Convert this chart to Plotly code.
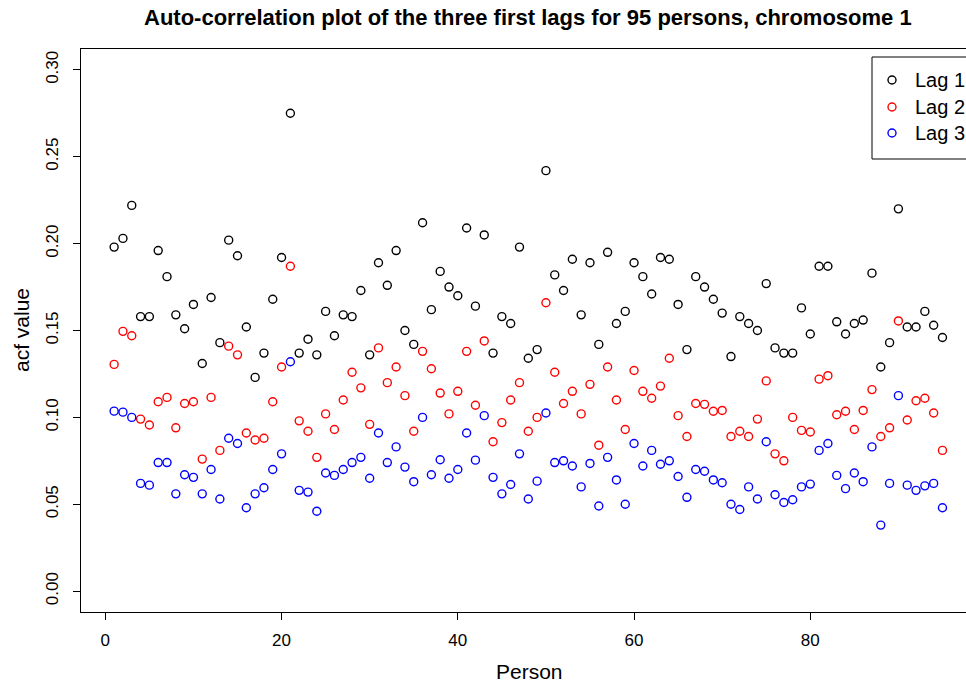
import plotly.graph_objects as go

persons = list(range(1, 96))

lag1 = [0.198, 0.203, 0.222, 0.158, 0.158, 0.196, 0.181, 0.159, 0.151, 0.165,
        0.131, 0.169, 0.143, 0.202, 0.193, 0.152, 0.123, 0.137, 0.168, 0.192,
        0.275, 0.137, 0.145, 0.136, 0.161, 0.147, 0.159, 0.158, 0.173, 0.136,
        0.189, 0.176, 0.196, 0.150, 0.142, 0.212, 0.162, 0.184, 0.175, 0.170,
        0.209, 0.164, 0.205, 0.137, 0.158, 0.154, 0.198, 0.134, 0.139, 0.242,
        0.182, 0.173, 0.191, 0.159, 0.189, 0.142, 0.195, 0.154, 0.161, 0.189,
        0.181, 0.171, 0.192, 0.191, 0.165, 0.139, 0.181, 0.175, 0.168, 0.160,
        0.135, 0.158, 0.154, 0.150, 0.177, 0.140, 0.137, 0.137, 0.163, 0.148,
        0.187, 0.187, 0.155, 0.148, 0.154, 0.156, 0.183, 0.129, 0.143, 0.220,
        0.152, 0.152, 0.161, 0.153, 0.146]

lag2 = [0.1305, 0.1495, 0.147, 0.099, 0.0956, 0.109, 0.1115, 0.094, 0.108, 0.109,
        0.076, 0.1115, 0.081, 0.141, 0.136, 0.091, 0.087, 0.088, 0.109, 0.129,
        0.187, 0.098, 0.092, 0.077, 0.102, 0.093, 0.110, 0.126, 0.117, 0.096,
        0.140, 0.120, 0.129, 0.1125, 0.092, 0.138, 0.128, 0.114, 0.102, 0.115,
        0.138, 0.107, 0.144, 0.086, 0.097, 0.110, 0.120, 0.092, 0.100, 0.166,
        0.126, 0.108, 0.115, 0.102, 0.119, 0.084, 0.129, 0.110, 0.093, 0.127,
        0.115, 0.111, 0.118, 0.134, 0.101, 0.089, 0.108, 0.1075, 0.1035, 0.104,
        0.089, 0.092, 0.089, 0.099, 0.121, 0.079, 0.075, 0.100, 0.0925, 0.0916,
        0.122, 0.124, 0.1015, 0.1035, 0.093, 0.104, 0.116, 0.089, 0.094, 0.1555,
        0.0985, 0.1096, 0.111, 0.1025, 0.081]

lag3 = [0.1036, 0.103, 0.100, 0.062, 0.061, 0.074, 0.074, 0.056, 0.067, 0.0655,
        0.056, 0.070, 0.053, 0.088, 0.085, 0.048, 0.056, 0.0595, 0.070, 0.079,
        0.132, 0.058, 0.057, 0.046, 0.068, 0.0666, 0.070, 0.074, 0.077, 0.065,
        0.091, 0.074, 0.083, 0.0714, 0.063, 0.100, 0.067, 0.0756, 0.065, 0.070,
        0.091, 0.0754, 0.101, 0.0655, 0.056, 0.0614, 0.079, 0.053, 0.0633, 0.1025,
        0.074, 0.075, 0.072, 0.060, 0.0735, 0.049, 0.077, 0.064, 0.050, 0.085,
        0.072, 0.081, 0.073, 0.075, 0.066, 0.054, 0.070, 0.069, 0.064, 0.0624,
        0.050, 0.047, 0.060, 0.053, 0.086, 0.0555, 0.051, 0.0526, 0.060, 0.0616,
        0.081, 0.085, 0.0666, 0.059, 0.068, 0.063, 0.083, 0.038, 0.062, 0.1125,
        0.061, 0.058, 0.0606, 0.062, 0.048]

series_names = ["Lag 1", "Lag 2", "Lag 3"]
series_colors = ["#000000", "#FF0000", "#0000FF"]
x_ticks = [0, 20, 40, 60, 80]
y_ticks = [0.00, 0.05, 0.10, 0.15, 0.20, 0.25, 0.30]

W, H = 966, 684
ML, MR, MT, MB = 81, 0, 49, 72
PW = W - ML - MR
PH = H - MT - MB


def px(xp):
    return (xp - ML) / PW


def py(yp):
    return (H - MB - yp) / PH


FONT = "Liberation Sans, Arial, Helvetica, sans-serif"
MARKER = dict(symbol="circle-open", size=8)

# legend layout (pixel positions in the figure)
LEG_LEFT, LEG_TOP, LEG_BOTTOM = 872, 57, 159
LEG_SYM_X, LEG_TEXT_X = 892, 913
LEG_ROWS = [80, 107, 133]

fig = go.Figure()
for name, vals, col in zip(series_names, [lag1, lag2, lag3], series_colors):
    fig.add_trace(go.Scatter(
        x=persons, y=vals, mode="markers", name=name, showlegend=False,
        marker=dict(**MARKER, color=col, line=dict(width=1.4, color=col)),
    ))

# legend glyphs on a hidden pixel-space overlay axis
for name, col, row in zip(series_names, series_colors, LEG_ROWS):
    fig.add_trace(go.Scatter(
        x=[LEG_SYM_X], y=[row], mode="markers", name=name, showlegend=False,
        xaxis="x2", yaxis="y2", hoverinfo="skip", cliponaxis=False,
        marker=dict(**MARKER, color=col, line=dict(width=1.4, color=col)),
    ))

annotations = [
    dict(text="<b>Auto-correlation plot of the three first lags for 95 persons, chromosome 1</b>",
         xref="paper", yref="paper", x=px(528), y=py(18),
         xanchor="center", yanchor="middle", showarrow=False,
         font=dict(size=22, family=FONT, color="black")),
    dict(text="Person", xref="paper", yref="paper", x=px(529), y=py(671),
         xanchor="center", yanchor="middle", showarrow=False,
         font=dict(size=21, family=FONT, color="black")),
    dict(text="acf value", xref="paper", yref="paper", x=px(21), y=py(330),
         xanchor="center", yanchor="middle", showarrow=False, textangle=-90,
         font=dict(size=21, family=FONT, color="black")),
]
for name, row in zip(series_names, LEG_ROWS):
    annotations.append(dict(
        text=name, xref="paper", yref="paper", x=px(LEG_TEXT_X), y=py(row),
        xanchor="left", yanchor="middle", showarrow=False,
        font=dict(size=20, family=FONT, color="black")))

fig.update_layout(
    width=W, height=H,
    margin=dict(l=ML, r=MR, t=MT, b=MB, autoexpand=False),
    paper_bgcolor="white", plot_bgcolor="white",
    font=dict(family=FONT, color="black"),
    showlegend=False,
    xaxis=dict(
        range=[-2.76, 97.67], tickvals=x_ticks, ticktext=[str(v) for v in x_ticks],
        showgrid=False, zeroline=False, showline=True, linecolor="black",
        linewidth=1, mirror=True, ticks="outside", ticklen=7, tickcolor="black",
        tickfont=dict(size=17, family=FONT), ticklabelstandoff=6,
    ),
    yaxis=dict(
        range=[-0.012, 0.312], tickvals=y_ticks,
        ticktext=["%.2f" % v for v in y_ticks],
        showgrid=False, zeroline=False, showline=True, linecolor="black",
        linewidth=1, mirror=False, ticks="outside", ticklen=7, tickcolor="black",
        tickangle=-90, tickfont=dict(size=17, family=FONT), ticklabelstandoff=8,
    ),
    xaxis2=dict(overlaying="x", range=[ML, W - MR], visible=False, fixedrange=True),
    yaxis2=dict(overlaying="y", range=[H - MB, MT], visible=False, fixedrange=True),
    shapes=[dict(type="rect", xref="paper", yref="paper",
                 x0=px(LEG_LEFT), x1=px(990), y0=py(LEG_BOTTOM), y1=py(LEG_TOP),
                 line=dict(color="black", width=1), fillcolor="white",
                 layer="below")],
    annotations=annotations,
)

fig.write_html("out.html")
